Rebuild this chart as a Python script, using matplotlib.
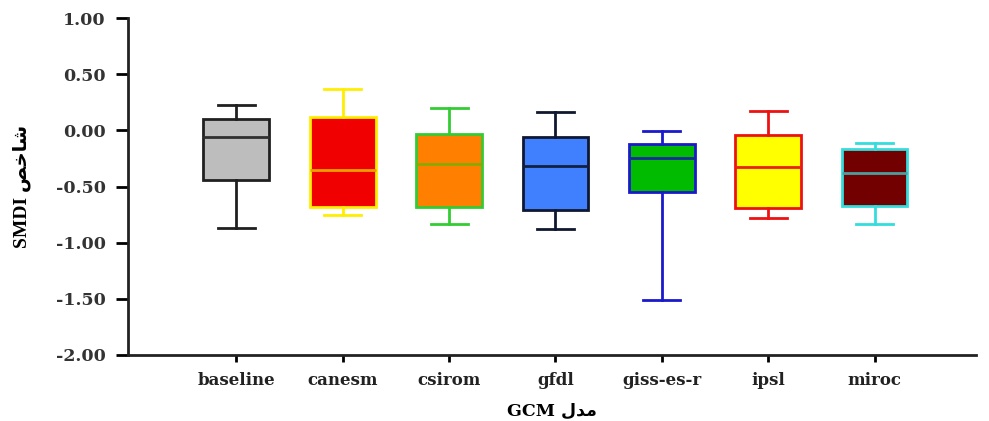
import matplotlib
matplotlib.use("Agg")
import matplotlib.pyplot as plt

# values (SMDI)
models = ["baseline", "canesm", "csirom", "gfdl", "giss-es-r", "ipsl", "miroc"]
whis_lo = [-0.87, -0.75, -0.83, -0.88, -1.51, -0.78, -0.83]
q1 = [-0.44, -0.68, -0.68, -0.71, -0.55, -0.69, -0.67]
med = [-0.06, -0.35, -0.30, -0.32, -0.25, -0.33, -0.38]
q3 = [0.10, 0.12, -0.03, -0.06, -0.12, -0.04, -0.17]
whis_hi = [0.23, 0.37, 0.20, 0.16, -0.01, 0.17, -0.11]

face = ["#bdbdbd", "#f00000", "#ff8000", "#4080ff", "#00bb00", "#ffff00", "#730000"]
edge = ["#202020", "#ffee00", "#33cc33", "#101830", "#1a1acc", "#ee1111", "#33dddd"]
mline = ["#303030", "#e8a000", "#88aa00", "#102040", "#1a2a9a", "#e82020", "#4aa0a0"]

fig = plt.figure(figsize=(9.89, 4.21), dpi=100)
ax = fig.add_axes([0.1294, 0.157, 0.857, 0.800])

stats = []
for i in range(len(models)):
    stats.append({"label": models[i], "whislo": whis_lo[i], "q1": q1[i], "med": med[i],
                  "q3": q3[i], "whishi": whis_hi[i], "fliers": []})

bp = ax.bxp(stats, positions=range(len(models)), widths=0.62, patch_artist=True,
            showfliers=False, capwidths=0.35)
for i in range(len(models)):
    bp["boxes"][i].set_facecolor(face[i])
    bp["boxes"][i].set_edgecolor(edge[i])
    bp["boxes"][i].set_linewidth(2)
    bp["medians"][i].set_color(mline[i])
    bp["medians"][i].set_linewidth(2)
    for w in bp["whiskers"][2 * i:2 * i + 2]:
        w.set_color(edge[i])
        w.set_linewidth(2)
    for c in bp["caps"][2 * i:2 * i + 2]:
        c.set_color(edge[i])
        c.set_linewidth(2)

ax.set_ylim(-2.0, 1.0)
ax.set_xlim(-1.02, 6.95)
yt = [-2.0, -1.5, -1.0, -0.5, 0.0, 0.5, 1.0]
ax.set_yticks(yt)
ax.set_yticklabels(["%.2f" % v for v in yt],
                   fontfamily="DejaVu Serif", fontweight="bold", fontsize=12.5, color="#333333")
ax.set_xticks(range(len(models)))
ax.set_xticklabels(models, fontfamily="DejaVu Serif", fontweight="bold", fontsize=12,
                   color="#222222")
ax.tick_params(axis="y", length=9, width=2, pad=7)
ax.tick_params(axis="x", length=5, width=2, pad=7)

for s in ["top", "right"]:
    ax.spines[s].set_visible(False)
for s in ["left", "bottom"]:
    ax.spines[s].set_linewidth(2)
    ax.spines[s].set_color("#222222")

# arabic words in presentation forms, visual order
shakhes = "\uFEBA\uFEA7\uFE8E\uFEB7"
modal = "\uFEDD\uFEAA\uFEE3"
ax.set_ylabel("SMDI " + shakhes, fontfamily=["Liberation Serif", "DejaVu Sans"],
              fontweight="bold", fontsize=14)
ax.yaxis.set_label_coords(-0.114, 0.5)
ax.set_xlabel("GCM " + modal, fontfamily=["DejaVu Serif", "DejaVu Sans"],
              fontweight="bold", fontsize=12.5, labelpad=10)

fig.savefig("out.png", dpi=100)
